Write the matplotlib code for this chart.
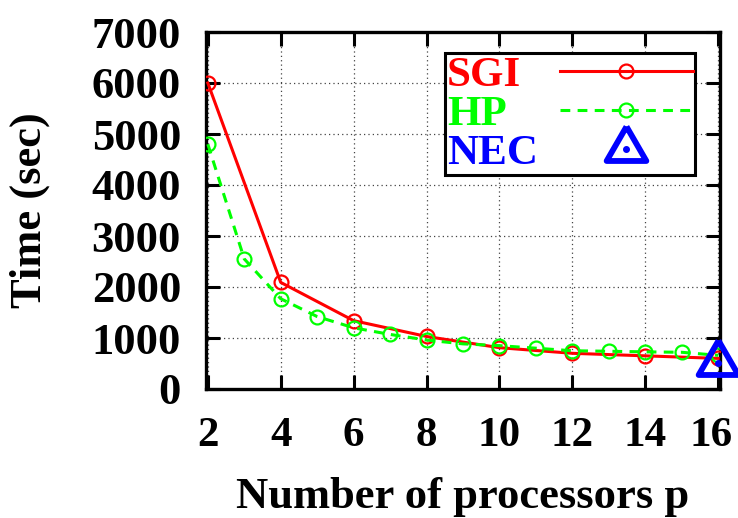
import matplotlib

matplotlib.use("Agg")

import matplotlib.pyplot as plt
import matplotlib.transforms as mtransforms
from matplotlib.legend_handler import HandlerTuple

# data
sgi_procs = [2, 4, 6, 8, 10, 12, 14, 16]
sgi_time = [6000, 2090, 1340, 1030, 810, 700, 650, 600]
hp_procs = [2, 3, 4, 5, 6, 7, 8, 9, 10, 11, 12, 13, 14, 15, 16]
hp_time = [4800, 2550, 1770, 1420, 1200, 1070, 960, 885, 850, 800, 750, 740, 728, 720, 660]
nec_procs = [16]
nec_time = [510]

x_ticks = [2, 4, 6, 8, 10, 12, 14, 16]
y_ticks = [0, 1000, 2000, 3000, 4000, 5000, 6000, 7000]

plt.rcParams["font.family"] = ["Liberation Serif", "DejaVu Serif"]
plt.rcParams["font.weight"] = "bold"
plt.rcParams["axes.labelweight"] = "bold"
plt.rcParams["font.size"] = 32

fig = plt.figure(figsize=(7.38, 5.18), dpi=100)
ax = fig.add_axes([206 / 738, 1 - 389 / 518, (720 - 206) / 738, (389 - 32) / 518])

tri = [(0, 0.577), (-0.5, -0.289), (0.5, -0.289), (0, 0.577)]

(sgi_line,) = ax.plot(sgi_procs, sgi_time, color="#ff0000", lw=2.2, marker="o",
                      ms=10, mfc="none", mew=1.6, zorder=3)
(hp_line,) = ax.plot(hp_procs, hp_time, color="#00ff00", lw=2.2, ls=(0, (3.2, 2.4)),
                     marker="o", ms=10, mfc="none", mew=1.6, zorder=4)
(nec_tri,) = ax.plot(nec_procs, nec_time, ls="none", marker=tri, ms=33, mfc="none",
                     mec="#0000ff", mew=4.2, zorder=5, clip_on=False)
(nec_dot,) = ax.plot(nec_procs, nec_time, ls="none", marker="o", ms=4, color="#0000ff",
                     zorder=6, clip_on=False)

ax.set_xlim(1.95, 16.05)
ax.set_ylim(0, 7000)
ax.set_xticks(x_ticks)
ax.set_yticks(y_ticks)
ax.tick_params(direction="in", length=10, width=2.2, top=True, right=True)
ax.tick_params(axis="x", pad=20, labelsize=31)
ax.tick_params(axis="y", pad=18)
for s in ax.spines.values():
    s.set_linewidth(2.4)
ax.grid(True, color="#444444", ls=(0, (1, 2.5)), lw=0.9)

ax.set_xlabel("Number of processors p", labelpad=16)
ax.set_ylabel("Time (sec)", labelpad=30)

leg = ax.legend([sgi_line, hp_line, (nec_tri, nec_dot)], ["SGI", "HP", "NEC"],
                handler_map={tuple: HandlerTuple(ndivide=1, pad=0)},
                loc="upper right", bbox_to_anchor=(0.952, 0.94), markerfirst=False,
                frameon=True, fancybox=False, edgecolor="black", framealpha=1,
                handlelength=3.1, labelspacing=0.0, borderpad=0.05, handletextpad=0.5,
                borderaxespad=0, labelcolor=["#ff0000", "#00ff00", "#0000ff"], fontsize=31)
leg.get_frame().set_linewidth(2.2)
leg.set_zorder(10)

# gnuplot keeps key labels flush left: left-align rows, widen the gap for short labels
fig.canvas.draw()
renderer = fig.canvas.get_renderer()
column = leg._legend_handle_box.get_children()[0]
column.align = "left"
widths = [t.get_window_extent(renderer).width for t in leg.get_texts()]
px_per_pt = fig.dpi / 72.0
for item, w in zip(column.get_children(), widths):
    item.sep = leg.handletextpad * leg._fontsize + (max(widths) - w) / px_per_pt

# pull the last x label in a touch so it stays inside the canvas
last = ax.get_xticklabels()[-1]
last.set_transform(last.get_transform()
                   + mtransforms.ScaledTranslation(-5 / 72, 0, fig.dpi_scale_trans))

fig.savefig("out.png", dpi=100)
